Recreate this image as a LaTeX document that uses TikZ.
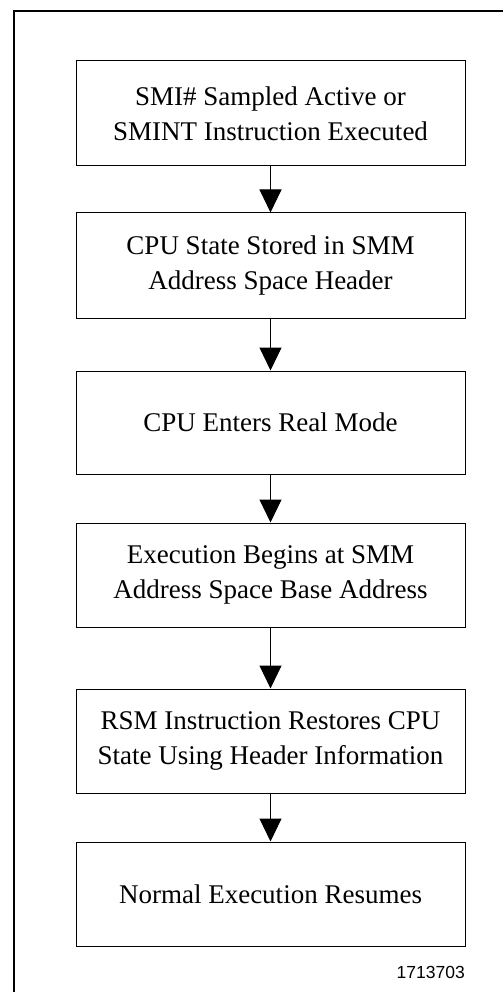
\documentclass[tikz,border=0pt]{standalone}
\usepackage{fontspec}
\setmainfont{Liberation Serif}
\newfontfamily\labelfont{Liberation Sans}
\usetikzlibrary{arrows.meta}
\begin{document}
\begin{tikzpicture}[x=1pt,y=-1pt,
  stepbox/.style={draw=black, line width=1pt, minimum width=389pt, inner sep=0pt,
    align=center, font=\fontsize{27}{35}\selectfont},
  flowarrow/.style={line width=1pt, -{Triangle[width=22pt,length=23pt]}}]
\useasboundingbox (0,0) rectangle (503,992);
\fill[white] (0,0) rectangle (503,992);
\draw[line width=2pt] (14,992) -- (14,11) -- (503,11);
\node[stepbox, minimum height=105pt] (b1) at (270.5,113.5) {SMI\# Sampled Active or\\SMINT Instruction Executed};
\node[stepbox, minimum height=105pt] (b2) at (270.5,265.5) {CPU State Stored in SMM\\Address Space Header};
\node[stepbox, minimum height=103pt] (b3) at (270.5,422.5) {CPU Enters Real Mode};
\node[stepbox, minimum height=104pt] (b4) at (270.5,575) {Execution Begins at SMM\\Address Space Base Address};
\node[stepbox, minimum height=104pt] (b5) at (270.5,741) {RSM Instruction Restores CPU\\State Using Header Information};
\node[stepbox, minimum height=104pt] (b6) at (270.5,894) {Normal Execution Resumes};
\node[anchor=base east, inner sep=0pt, font=\labelfont\fontsize{17.5}{20}\selectfont] (fig) at (465,978) {1713703};
\draw[flowarrow] (b1.south) -- (b2.north);
\draw[flowarrow] (b2.south) -- (b3.north);
\draw[flowarrow] (b3.south) -- (b4.north);
\draw[flowarrow] (b4.south) -- (b5.north);
\draw[flowarrow] (b5.south) -- (b6.north);
\end{tikzpicture}
\end{document}
